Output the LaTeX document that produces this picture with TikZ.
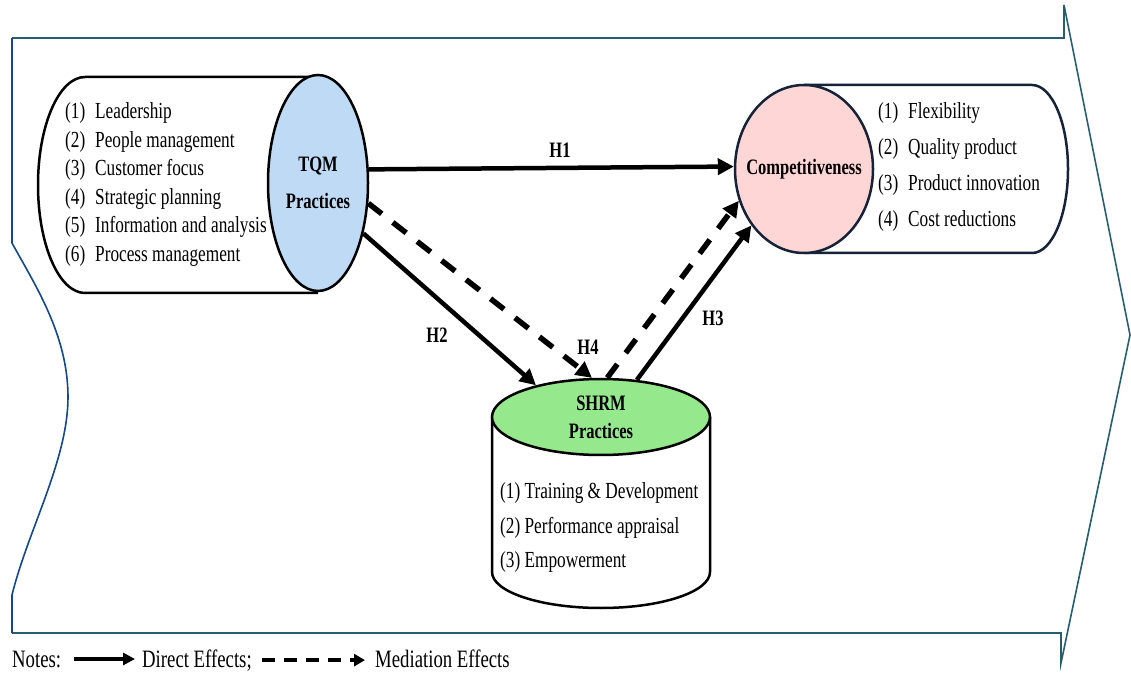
\documentclass[tikz,border=0pt]{standalone}
\usepackage{fontspec}
\setmainfont{Liberation Serif}[FakeStretch=0.75]
\usetikzlibrary{arrows.meta,shapes.geometric}
\definecolor{frameteal}{RGB}{38,94,112}
\definecolor{frameblue}{RGB}{20,72,140}
\definecolor{navy}{RGB}{22,34,56}
\definecolor{tqmblue}{RGB}{190,218,244}
\definecolor{comppink}{RGB}{255,214,214}
\definecolor{shrmgreen}{RGB}{150,232,140}
\newcommand{\numitem}[2]{\makebox[30pt][l]{(#1)}#2}

\begin{document}
\begin{tikzpicture}[x=1pt,y=1pt,
    listtext/.style={font=\fontsize{23}{28}\selectfont, anchor=base west, inner sep=0pt},
    hyp/.style={font=\fontsize{22}{26}\selectfont\bfseries, inner sep=0pt},
    notetext/.style={font=\fontsize{25}{28}\selectfont, anchor=base west, inner sep=0pt},
    oval/.style={ellipse, draw, line width=2.5pt, inner sep=0pt, align=center},
    direct/.style={line width=4.5pt, -{Triangle[length=16pt,width=16pt]}},
    mediation/.style={line width=5.5pt, dash pattern=on 17pt off 14pt, -{Triangle[length=16pt,width=16pt]}}]
        \fill[white] (0,0) rectangle (1131,672);
        \useasboundingbox (0,0) rectangle (1131,672);
        % frame arrow
        \draw[frameteal, line width=1.6pt] (12,634) -- (1064,634) -- (1064,667) -- (1130,337)
          -- (1061,9) -- (1061,39) -- (12,39);
        \draw[frameblue, line width=1.6pt] (12,39) -- (12,77) .. controls (28,142) and (68,212) .. (68,275)
          .. controls (68,337) and (35,387) .. (12,429) -- (12,634);
        % TQM
        \draw[line width=2.5pt, fill=white] (318,595) -- (85,595)
          arc[start angle=90, end angle=270, x radius=47pt, y radius=108pt] -- (318,379);
        \node[oval, fill=tqmblue, minimum width=100pt, minimum height=216pt,
          font=\fontsize{22}{37}\selectfont\bfseries] (tqm) at (318,489) {TQM\\Practices};
        \node[listtext] (tqm1) at (65,553) {\numitem{1}{Leadership}};
        \node[listtext] (tqm2) at (65,524) {\numitem{2}{People management}};
        \node[listtext] (tqm3) at (65,496) {\numitem{3}{Customer focus}};
        \node[listtext] (tqm4) at (65,467) {\numitem{4}{Strategic planning}};
        \node[listtext] (tqm5) at (65,439) {\numitem{5}{Information and analysis}};
        \node[listtext] (tqm6) at (65,410) {\numitem{6}{Process management}};
        % Competitiveness
        \draw[navy, line width=2.5pt, fill=white] (804,587) -- (1032,587)
          arc[start angle=90, end angle=-90, x radius=36pt, y radius=84pt] -- (804,419);
        \node[oval, draw=navy, fill=comppink, minimum width=138pt, minimum height=168pt] (comp) at (804,503) {};
        \node[hyp] (comptext) at (comp.center) {Competitiveness};
        \node[listtext] (comp1) at (878,553) {\numitem{1}{Flexibility}};
        \node[listtext] (comp2) at (878,517) {\numitem{2}{Quality product}};
        \node[listtext] (comp3) at (878,481) {\numitem{3}{Product innovation}};
        \node[listtext] (comp4) at (878,445) {\numitem{4}{Cost reductions}};
        % SHRM
        \draw[line width=2.5pt, fill=white] (492,255) -- (492,100)
          arc[start angle=180, end angle=360, x radius=109pt, y radius=36pt] -- (710,255);
        \node[oval, fill=shrmgreen, minimum width=218pt, minimum height=76pt,
          font=\fontsize{22}{28}\selectfont\bfseries] (shrm) at (601,255) {SHRM\\Practices};
        \node[listtext] (shrm1) at (500,174) {(1) Training \& Development};
        \node[listtext] (shrm2) at (500,139) {(2) Performance appraisal};
        \node[listtext] (shrm3) at (500,105) {(3) Empowerment};
        % hypotheses
        \draw[direct] (tqm.15) -- (comp.178);
        \draw[direct] (tqm.-48) -- (shrm.154);
        \draw[direct] (shrm.46) -- (comp.227);
        \draw[mediation] (tqm.-22) -- (shrm.103);
        \draw[mediation] (shrm.81) -- (comp.206);
        \node[hyp] (h1) at (560,522) {H1};
        \node[hyp] (h2) at (437,337) {H2};
        \node[hyp] (h3) at (713,354) {H3};
        \node[hyp] (h4) at (588,325) {H4};
        % notes
        \node[notetext] (notes) at (12,5) {Notes:};
        \node[notetext] (directnote) at (142,5) {Direct Effects;};
        \node[notetext] (mediationnote) at (375,5) {Mediation Effects};
        \draw[line width=3.5pt, -{Triangle[length=12pt,width=12pt]}, shorten <=13pt, shorten >=7pt]
          (notes.east) -- (notes.east -| directnote.west);
        \draw[line width=4pt, dash pattern=on 13pt off 9pt, -{Triangle[length=11pt,width=12pt]}, shorten <=10pt, shorten >=10pt]
          (directnote.east) -- (directnote.east -| mediationnote.west);
      \end{tikzpicture}
\end{document}
